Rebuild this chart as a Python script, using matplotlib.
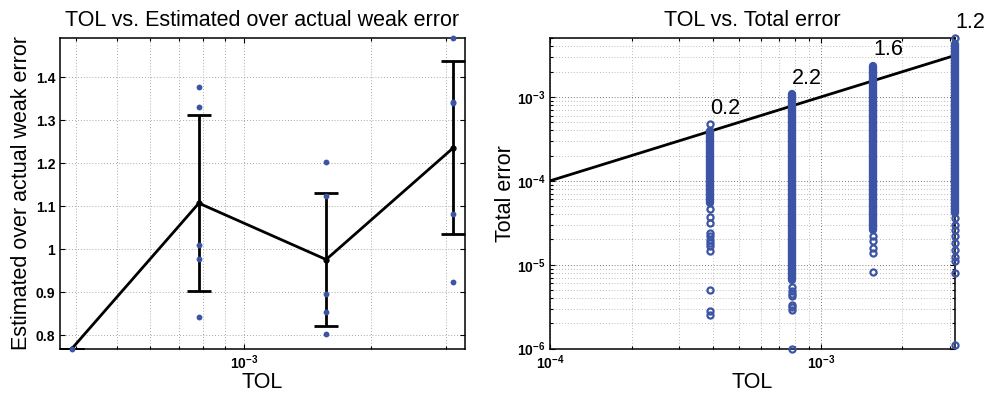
import matplotlib
matplotlib.use("Agg")
import numpy as np
import matplotlib.pyplot as plt
from matplotlib.ticker import FixedLocator, FuncFormatter, NullFormatter, LogLocator

plt.rcParams["font.family"] = ["Liberation Sans", "DejaVu Sans"]
plt.rcParams["mathtext.fontset"] = "custom"
plt.rcParams["mathtext.rm"] = "Liberation Sans"
plt.rcParams["mathtext.bf"] = "Liberation Sans:bold"

BLUE = "#3c54a5"

# tolerances used in the runs
tol = [3.90625e-4, 7.8125e-4, 1.5625e-3, 3.125e-3]

# estimated / actual weak error, one list per tolerance
ratio_runs = [
    [0.768],
    [1.376, 1.330, 1.009, 0.977, 0.843],
    [1.202, 1.124, 0.895, 0.854, 0.803],
    [1.491, 1.343, 1.339, 1.081, 0.924],
]
ratio_mean = [0.768, 1.107, 0.976, 1.236]
ratio_std = [0.0, 0.204, 0.155, 0.201]

# total error: densely packed range of samples per tolerance ...
err_dense_hi = [3.9e-4, 1.07e-3, 2.34e-3, 4.3e-3]
err_dense_lo = [5.4e-5, 6.5e-6, 2.6e-5, 4.1e-5]
# ... and the samples that stand apart from it
err_sparse = [
    [4.73e-4, 4.58e-5, 3.74e-5, 3.12e-5, 2.38e-5, 2.2e-5, 1.98e-5, 1.8e-5,
     1.65e-5, 1.47e-5, 5.03e-6, 2.78e-6, 2.54e-6],
    [5.4e-6, 4.8e-6, 4.5e-6, 4.2e-6, 3.3e-6, 3.1e-6, 2.9e-6, 0.99e-6],
    [2.2e-5, 1.9e-5, 1.6e-5, 1.38e-5, 8.3e-6],
    [5.04e-3, 3.6e-5, 3.0e-5, 2.6e-5, 2.2e-5, 1.8e-5, 1.5e-5, 1.25e-5,
     1.12e-5, 7.9e-6, 1.09e-6],
]
fail_pct = ["0.2", "2.2", "1.6", "1.2"]

# reference line error = TOL
ref_tol = [1e-4, 3.125e-3]
ref_err = [1e-4, 3.125e-3]


def bold_pow10(v, pos):
    e = int(round(np.log10(v)))
    return r"$\mathbf{10^{%d}}$" % e


def style_axes(ax):
    for s in ax.spines.values():
        s.set_linewidth(1.1)
    ax.tick_params(which="both", direction="in", top=True, right=True,
                   labelsize=10, width=0.8)
    ax.tick_params(which="major", length=3.5)
    ax.tick_params(which="minor", length=2)
    for lab in ax.get_xticklabels() + ax.get_yticklabels():
        lab.set_fontweight("bold")


fig = plt.figure(figsize=(9.84, 3.94), dpi=100)
ax1 = fig.add_axes([60 / 984, 45 / 394, 405 / 984, 311 / 394])
ax2 = fig.add_axes([550 / 984, 45 / 394, 405 / 984, 311 / 394])

# left: ratio of estimated to actual weak error
ax1.set_xscale("log")
ax1.errorbar(tol, ratio_mean, yerr=ratio_std, color="k", lw=2,
             marker="o", ms=3.5, capsize=8.3, capthick=2, zorder=3)
for t, runs in zip(tol, ratio_runs):
    ax1.plot([t] * len(runs), runs, "o", color=BLUE, ms=4.2, mew=0,
             zorder=4, clip_on=False)
all_ratio = [v for r in ratio_runs for v in r]
ax1.set_xlim(tol[0] / 1.065, tol[-1] * 1.065)
ax1.set_ylim(min(all_ratio), max(all_ratio))
ax1.yaxis.set_major_locator(FixedLocator([0.8, 0.9, 1.0, 1.1, 1.2, 1.3, 1.4]))
ax1.yaxis.set_major_formatter(FuncFormatter(lambda v, p: "%g" % v))
ax1.xaxis.set_major_formatter(FuncFormatter(bold_pow10))
ax1.xaxis.set_minor_formatter(NullFormatter())
ax1.grid(True, which="both", axis="x", color="0.55", ls=(0, (1, 2.5)), lw=0.6)
ax1.grid(True, which="major", axis="y", color="0.55", ls=(0, (1, 2.5)), lw=0.6)
ax1.set_title("TOL vs. Estimated over actual weak error", fontsize=15.5, pad=9)
ax1.set_xlabel("TOL", fontsize=15.5)
ax1.set_ylabel("Estimated over actual weak error", fontsize=15.5)
ax1.xaxis.set_label_coords(0.5, -0.075)
ax1.yaxis.set_label_coords(-0.068, 0.5)
style_axes(ax1)

# right: total error per run
ax2.set_xscale("log")
ax2.set_yscale("log")
ax2.plot(ref_tol, ref_err, color="k", lw=2, zorder=2)
ax2.vlines(tol, err_dense_lo, err_dense_hi, color=BLUE, lw=6,
           capstyle="round", zorder=3, clip_on=False)
for t, errs in zip(tol, err_sparse):
    ax2.plot([t] * len(errs), errs, "o", mfc="none", mec=BLUE, ms=4.4,
             mew=1.6, zorder=4, clip_on=False)
col_max = [max(max(e), h) for e, h in zip(err_sparse, err_dense_hi)]
for t, m, s in zip(tol, col_max, fail_pct):
    ax2.text(t, m * 1.55, s, ha="left", va="center", fontsize=15.5,
             clip_on=False)
all_err = [v for e in err_sparse for v in e] + err_dense_lo + err_dense_hi
ax2.set_xlim(ref_tol[0], tol[-1])
ax2.set_ylim(min(all_err), max(all_err))
ax2.xaxis.set_major_formatter(FuncFormatter(bold_pow10))
ax2.yaxis.set_major_formatter(FuncFormatter(bold_pow10))
ax2.yaxis.set_major_locator(FixedLocator([1e-6, 1e-5, 1e-4, 1e-3]))
ax2.yaxis.set_minor_locator(LogLocator(subs=np.arange(2, 10)))
ax2.xaxis.set_minor_formatter(NullFormatter())
ax2.yaxis.set_minor_formatter(NullFormatter())
ax2.grid(True, which="major", color="0.3", ls=(0, (1, 2.5)), lw=0.6)
ax2.grid(True, which="minor", color="0.65", ls=(0, (1, 2.5)), lw=0.6)
ax2.set_title("TOL vs. Total error", fontsize=15.5, pad=9)
ax2.set_xlabel("TOL", fontsize=15.5)
ax2.set_ylabel("Total error", fontsize=15.5)
ax2.xaxis.set_label_coords(0.5, -0.075)
ax2.yaxis.set_label_coords(-0.084, 0.5)
style_axes(ax2)

fig.savefig("out.png", dpi=100)
